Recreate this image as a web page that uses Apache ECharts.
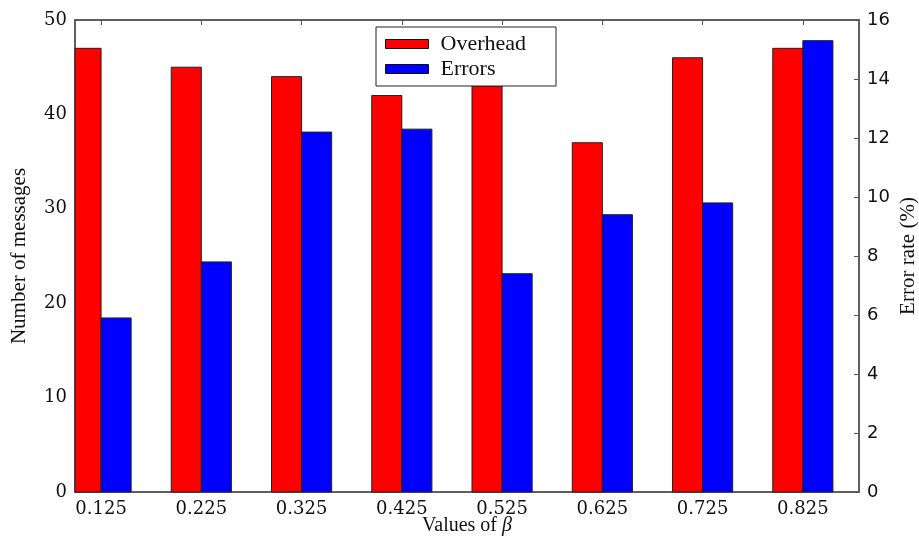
<!DOCTYPE html>
<html>
<head>
<meta charset="utf-8">
<script src="https://cdn.jsdelivr.net/npm/echarts@6/dist/echarts.min.js"></script>
<style>
  html, body { margin: 0; padding: 0; background: #fff; }
  #chart { width: 919px; height: 537px; }
</style>
</head>
<body>
<div id="chart"></div>
<script>
// Values of beta used on the x axis
const betaLabels = ['0.125', '0.225', '0.325', '0.425', '0.525', '0.625', '0.725', '0.825'];
// Number of messages (left axis)
const overhead = [47, 45, 44, 42, 43, 37, 46, 47];
// Error rate in percent (right axis)
const errors = [5.9, 7.8, 12.2, 12.3, 7.4, 9.4, 9.8, 15.3];

const positions = betaLabels.map((_, i) => i);
const barSpan = 0.3;           // bar width in x-axis units
const axisColor = '#555';
const serif = "'DejaVu Serif', serif";
const textSerif = "'Liberation Serif', serif";

// Bars drawn in data space: the first series sits left of each tick,
// the second right of it; both are clipped to the plotting area.
function barRenderer(side) {
  return function (params, api) {
    const x = api.value(0);
    const x0 = side < 0 ? x - barSpan : x;
    const x1 = side < 0 ? x : x + barSpan;
    const p0 = api.coord([x0, 0]);
    const p1 = api.coord([x1, api.value(1)]);
    const rect = {
      x: p0[0], y: p1[1],
      width: p1[0] - p0[0], height: p0[1] - p1[1]
    };
    const cs = params.coordSys;
    const shape = echarts.graphic.clipRectByRect(rect, {
      x: cs.x, y: cs.y, width: cs.width, height: cs.height
    });
    if (!shape) return null;
    return {
      type: 'rect',
      shape: shape,
      style: api.style({ stroke: '#222', lineWidth: 1 })
    };
  };
}

const chart = echarts.init(document.getElementById('chart'), null, { renderer: 'canvas' });

chart.setOption({
  animation: false,
  backgroundColor: '#fff',
  grid: {
    left: 75, right: 60, top: 20, bottom: 45,
    containLabel: false,
    outerBoundsMode: 'none',
    show: true, borderColor: axisColor, borderWidth: 1.5, backgroundColor: 'transparent'
  },
  legend: {
    data: ['Overhead', 'Errors'],
    orient: 'vertical',
    left: 376, top: 27,
    backgroundColor: '#fff',
    borderColor: '#222', borderWidth: 1, borderRadius: 0,
    padding: [6, 30, 6, 9],
    itemWidth: 43, itemHeight: 9, itemGap: 3,
    icon: 'rect',
    itemStyle: { borderColor: '#111', borderWidth: 1 },
    textStyle: { fontFamily: textSerif, fontSize: 22, color: '#111', padding: [0, 0, 0, 7], lineHeight: 20 }
  },
  xAxis: [{
    type: 'value',
    min: -0.26, max: 7.56,
    position: 'bottom',
    name: '{t|Values of }{b|β}',
    nameLocation: 'middle', nameGap: 24,
    nameMoveOverlap: false,
    nameTextStyle: {
      rich: {
        t: { fontFamily: textSerif, fontSize: 20, color: '#111' },
        b: { fontFamily: textSerif, fontSize: 20, fontStyle: 'italic', color: '#111' }
      }
    },
    axisLine: { show: true, onZero: false, lineStyle: { color: axisColor, width: 1.5 } },
    axisTick: { show: true, inside: true, length: 5, customValues: positions, lineStyle: { color: axisColor } },
    axisLabel: {
      customValues: positions,
      formatter: v => betaLabels[Math.round(v)],
      fontFamily: serif, fontSize: 18, color: '#111', margin: 8
    },
    splitLine: { show: false }
  }, {
    type: 'value',
    min: -0.26, max: 7.56,
    position: 'top',
    axisLine: { show: true, onZero: false, lineStyle: { color: axisColor, width: 1.5 } },
    axisTick: { show: true, inside: true, length: 5, customValues: positions, lineStyle: { color: axisColor } },
    axisLabel: { show: false },
    splitLine: { show: false }
  }],
  yAxis: [{
    type: 'value',
    min: 0, max: 50, interval: 10,
    position: 'left',
    name: 'Number of messages',
    nameLocation: 'middle', nameGap: 45, nameRotate: 90,
    nameMoveOverlap: false,
    nameTextStyle: { fontFamily: textSerif, fontSize: 21, color: '#111' },
    axisLine: { show: true, onZero: false, lineStyle: { color: axisColor, width: 1.5 } },
    axisTick: { show: true, inside: true, length: 5, lineStyle: { color: axisColor } },
    axisLabel: { fontFamily: serif, fontSize: 18, color: '#111', margin: 8 },
    splitLine: { show: false }
  }, {
    type: 'value',
    min: 0, max: 16, interval: 2,
    position: 'right',
    name: 'Error rate (%)',
    nameLocation: 'middle', nameGap: 39, nameRotate: 90,
    nameMoveOverlap: false,
    nameTextStyle: { fontFamily: textSerif, fontSize: 21, color: '#111' },
    axisLine: { show: true, onZero: false, lineStyle: { color: axisColor, width: 1.5 } },
    axisTick: { show: true, inside: true, length: 5, lineStyle: { color: axisColor } },
    axisLabel: { fontFamily: "'DejaVu Sans', sans-serif", fontSize: 18, color: '#111', margin: 8 },
    splitLine: { show: false }
  }],
  series: [{
    name: 'Overhead',
    type: 'custom',
    xAxisIndex: 0, yAxisIndex: 0,
    itemStyle: { color: '#ff0000' },
    renderItem: barRenderer(-1),
    encode: { x: 0, y: 1 },
    data: positions.map((x, i) => [x, overhead[i]])
  }, {
    name: 'Errors',
    type: 'custom',
    xAxisIndex: 0, yAxisIndex: 1,
    itemStyle: { color: '#0000ff' },
    renderItem: barRenderer(1),
    encode: { x: 0, y: 1 },
    data: positions.map((x, i) => [x, errors[i]])
  }]
});
</script>
</body>
</html>
